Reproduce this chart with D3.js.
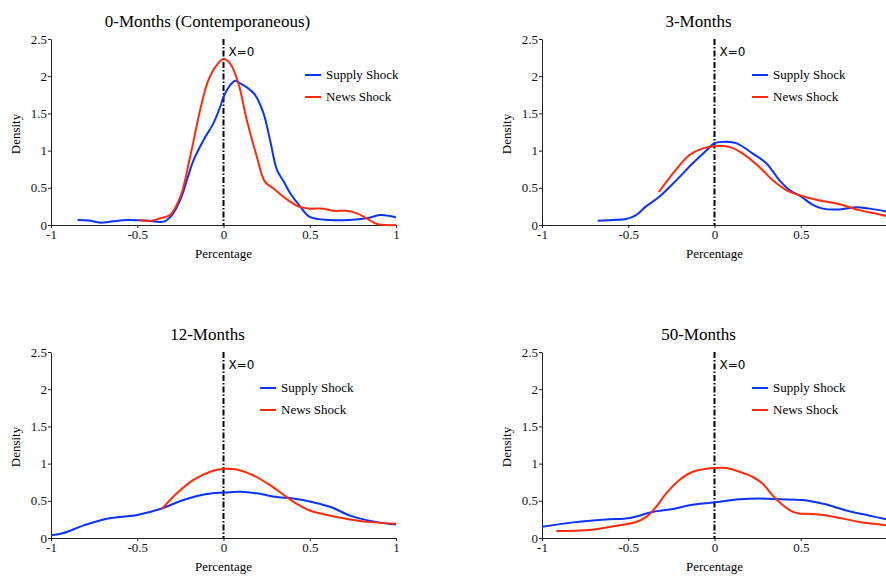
<!DOCTYPE html>
<html>
<head>
<meta charset="utf-8">
<script src="https://cdn.jsdelivr.net/npm/d3@7"></script>
<style>
  body { margin: 0; background: #fff; }
</style>
</head>
<body>
<div id="root"></div>
<script>
const w = 886;
const h = 576;
const serif = "'Liberation Serif', 'Times New Roman', serif";

const titles = ["0-Months (Contemporaneous)", "3-Months", "12-Months", "50-Months"];
const seriesNames = ["Supply Shock", "News Shock"];
const colors = ["#0a33ff", "#ff2a0a"];
const xTicks = [-1, -0.5, 0, 0.5, 1];
const yTicks = [0, 0.5, 1, 1.5, 2, 2.5];

// [x, density]
const supply0 = [[-0.846,0.067],[-0.78,0.06],[-0.714,0.03],[-0.64,0.05],[-0.56,0.067],[-0.45,0.06],[-0.347,0.045],[-0.3,0.13],[-0.25,0.34],[-0.21,0.62],[-0.174,0.87],[-0.116,1.14],[-0.058,1.37],[-0.019,1.59],[0,1.72],[0.039,1.88],[0.068,1.94],[0.1,1.9],[0.135,1.85],[0.183,1.75],[0.232,1.5],[0.27,1.14],[0.31,0.74],[0.35,0.58],[0.386,0.43],[0.444,0.25],[0.5,0.11],[0.617,0.067],[0.73,0.067],[0.83,0.09],[0.907,0.134],[0.965,0.12],[1.0,0.10]];
const news0 = [[-0.49,0.067],[-0.425,0.054],[-0.367,0.09],[-0.31,0.134],[-0.25,0.38],[-0.193,0.92],[-0.135,1.55],[-0.087,1.95],[-0.039,2.15],[0,2.23],[0.039,2.17],[0.087,1.9],[0.135,1.41],[0.193,0.92],[0.241,0.58],[0.29,0.49],[0.347,0.38],[0.434,0.25],[0.5,0.22],[0.58,0.22],[0.637,0.19],[0.71,0.19],[0.77,0.16],[0.83,0.09],[0.89,0.013],[1.0,0.0]];

const supply3 = [[-0.677,0.058],[-0.59,0.067],[-0.513,0.08],[-0.455,0.134],[-0.397,0.25],[-0.32,0.38],[-0.222,0.6],[-0.126,0.83],[-0.048,1.0],[0,1.1],[0.068,1.12],[0.126,1.1],[0.222,0.96],[0.3,0.83],[0.377,0.6],[0.435,0.47],[0.503,0.38],[0.57,0.27],[0.628,0.22],[0.725,0.21],[0.822,0.24],[0.9,0.22],[1.0,0.18]];
const news3 = [[-0.323,0.44],[-0.242,0.69],[-0.145,0.94],[-0.068,1.03],[0,1.06],[0.087,1.05],[0.164,0.96],[0.26,0.78],[0.338,0.6],[0.416,0.47],[0.493,0.4],[0.59,0.34],[0.725,0.28],[0.84,0.2],[0.92,0.16],[1.0,0.12]];

const supply12 = [[-1,0.036],[-0.927,0.067],[-0.81,0.17],[-0.676,0.26],[-0.5,0.31],[-0.367,0.39],[-0.232,0.51],[-0.097,0.59],[0,0.61],[0.097,0.62],[0.193,0.6],[0.31,0.55],[0.405,0.53],[0.52,0.48],[0.618,0.42],[0.734,0.3],[0.83,0.24],[0.927,0.2],[1.0,0.18]];
const news12 = [[-0.357,0.39],[-0.27,0.6],[-0.174,0.78],[-0.077,0.89],[0,0.93],[0.077,0.92],[0.174,0.84],[0.27,0.71],[0.367,0.55],[0.425,0.46],[0.5,0.37],[0.58,0.32],[0.734,0.25],[0.87,0.21],[1.0,0.19]];

const supply50 = [[-1,0.15],[-0.82,0.21],[-0.63,0.25],[-0.49,0.27],[-0.36,0.35],[-0.24,0.39],[-0.145,0.44],[0,0.48],[0.145,0.52],[0.26,0.53],[0.377,0.52],[0.51,0.51],[0.63,0.46],[0.764,0.37],[0.9,0.3],[1.0,0.25]];
const news50 = [[-0.917,0.094],[-0.78,0.1],[-0.667,0.125],[-0.55,0.17],[-0.455,0.215],[-0.397,0.28],[-0.338,0.42],[-0.28,0.6],[-0.203,0.78],[-0.126,0.89],[-0.048,0.93],[0,0.94],[0.068,0.94],[0.145,0.89],[0.222,0.82],[0.28,0.73],[0.338,0.57],[0.397,0.44],[0.455,0.35],[0.49,0.33],[0.59,0.32],[0.706,0.28],[0.84,0.215],[0.92,0.19],[1.0,0.17]];

const panels = [
  { title: titles[0], series: [supply0, news0], left: 51, top: 39, legX: 305, legY: 75 },
  { title: titles[1], series: [supply3, news3], left: 542, top: 39, legX: 752, legY: 75 },
  { title: titles[2], series: [supply12, news12], left: 51, top: 352, legX: 260, legY: 388 },
  { title: titles[3], series: [supply50, news50], left: 542, top: 352, legX: 752, legY: 388 }
];
const pw = 345;
const ph = 186;

const svg = d3.select("#root").append("svg")
  .attr("width", w)
  .attr("height", h);

panels.forEach(p => {
  const g = svg.append("g").attr("transform", "translate(" + p.left + "," + p.top + ")");
  const x = d3.scaleLinear().domain([-1, 1]).range([0, pw]);
  const y = d3.scaleLinear().domain([0, 2.5]).range([ph, 0]);

  // title
  g.append("text")
    .attr("x", pw / 2 - 16)
    .attr("y", -12)
    .attr("text-anchor", "middle")
    .attr("font-family", serif)
    .attr("font-size", 17)
    .text(p.title);

  // axes (the right column's "1" falls past the page edge, as in the picture)
  const shownX = xTicks.filter(t => p.left + x(t) < w - 4);
  const xAxis = g.append("g")
    .attr("transform", "translate(0," + ph + ")")
    .call(d3.axisBottom(x).tickValues(shownX).tickSize(3).tickSizeOuter(0).tickPadding(2).tickFormat(d => d));
  const yAxis = g.append("g")
    .call(d3.axisLeft(y).tickValues(yTicks).tickSize(3).tickSizeOuter(0).tickPadding(1).tickFormat(d => d));
  [xAxis, yAxis].forEach(a => {
    a.attr("font-family", serif).attr("font-size", 13);
    a.selectAll("text").attr("fill", "#111");
    a.selectAll("line,path").attr("stroke", "#222");
  });

  // axis labels
  g.append("text")
    .attr("x", pw / 2)
    .attr("y", ph + 33)
    .attr("text-anchor", "middle")
    .attr("font-family", serif)
    .attr("font-size", 13)
    .text("Percentage");
  g.append("text")
    .attr("transform", "translate(-31," + (ph / 2 + 2) + ") rotate(-90)")
    .attr("text-anchor", "middle")
    .attr("font-family", serif)
    .attr("font-size", 13)
    .text("Density");

  // x=0 line
  g.append("line")
    .attr("x1", x(0)).attr("x2", x(0))
    .attr("y1", 0).attr("y2", ph)
    .attr("stroke", "#000")
    .attr("stroke-width", 2)
    .attr("stroke-dasharray", "6,2,1.5,2");
  g.append("text")
    .attr("x", x(0) + 5)
    .attr("y", 17)
    .attr("font-family", "'DejaVu Sans', sans-serif")
    .attr("font-size", 12)
    .text("X=0");

  // density curves
  const line = d3.line()
    .x(d => x(d[0]))
    .y(d => y(d[1]))
    .curve(d3.curveCatmullRom.alpha(0.5));
  p.series.forEach((s, i) => {
    g.append("path")
      .datum(s)
      .attr("fill", "none")
      .attr("stroke", colors[i])
      .attr("stroke-width", 2)
      .attr("d", line);
  });

  // legend
  seriesNames.forEach((n, i) => {
    const ly = p.legY - p.top + i * 22;
    g.append("line")
      .attr("x1", p.legX - p.left).attr("x2", p.legX - p.left + 16)
      .attr("y1", ly).attr("y2", ly)
      .attr("stroke", colors[i])
      .attr("stroke-width", 2);
    g.append("text")
      .attr("x", p.legX - p.left + 21)
      .attr("y", ly + 4)
      .attr("font-family", serif)
      .attr("font-size", 13)
      .text(n);
  });
});
</script>
</body>
</html>
